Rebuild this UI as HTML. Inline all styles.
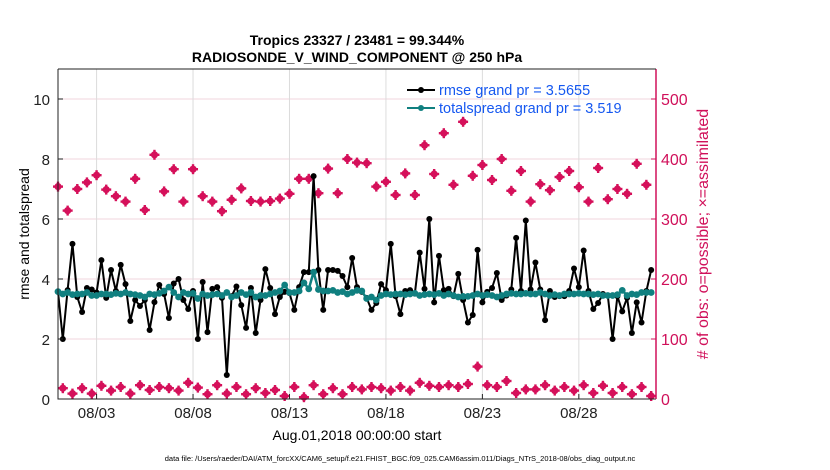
<!DOCTYPE html>
<html><head><meta charset="utf-8"><style>
body{margin:0;background:#fff;}
svg{display:block;font-family:"Liberation Sans",Arial,sans-serif;}
</style></head><body>
<svg id="chart" width="830" height="470" viewBox="0 0 830 470">
<g id="grid"></g>
<g id="series"></g>
<g id="axes"></g>
<text x="357" y="45" text-anchor="middle" font-size="14" font-weight="bold">Tropics 23327 / 23481 = 99.344%</text>
<text x="357" y="62" text-anchor="middle" font-size="14" font-weight="bold">RADIOSONDE_V_WIND_COMPONENT @ 250 hPa</text>
<text transform="translate(29,234) rotate(-90)" text-anchor="middle" font-size="14">rmse and totalspread</text>
<text transform="translate(708,234) rotate(-90)" text-anchor="middle" font-size="16" fill="#d0105a"># of obs: o=possible; ×=assimilated</text>
<text x="357" y="440" text-anchor="middle" font-size="14">Aug.01,2018 00:00:00 start</text>
<text x="400" y="461" text-anchor="middle" font-size="7.5">data file: /Users/raeder/DAI/ATM_forcXX/CAM6_setup/f.e21.FHIST_BGC.f09_025.CAM6assim.011/Diags_NTrS_2018-08/obs_diag_output.nc</text>
<g>
<line x1="407" y1="90" x2="435" y2="90" stroke="#000" stroke-width="2"/>
<circle cx="421" cy="90" r="3" fill="#000"/>
<text x="439" y="95" font-size="14.5" fill="#1558f0">rmse grand pr = 3.5655</text>
<line x1="407" y1="108" x2="435" y2="108" stroke="#108080" stroke-width="2"/>
<circle cx="421" cy="108" r="3" fill="#108080"/>
<text x="439" y="113" font-size="14.5" fill="#1558f0">totalspread grand pr = 3.519</text>
</g>
</svg>
<script>
const rmse=[3.58,2.0,3.63,5.17,3.4,2.9,3.7,3.65,3.55,4.63,3.37,4.3,3.6,4.47,3.83,2.6,3.3,3.1,3.3,2.3,3.23,3.8,3.5,2.7,3.85,4.0,3.3,3.0,3.6,2.0,3.9,
2.23,3.67,3.73,3.37,0.8,3.43,3.75,3.13,2.37,3.7,2.2,3.3,4.33,3.7,2.83,3.4,3.57,3.53,2.97,3.73,4.23,4.23,7.43,4.3,2.97,4.3,4.3,4.27,4.1,3.73,
4.7,3.73,3.57,3.37,2.97,3.2,3.83,3.63,5.17,3.43,2.83,3.6,3.63,3.53,4.88,3.67,6.0,3.22,4.77,3.63,3.67,3.43,4.17,3.3,2.55,2.8,4.97,3.22,3.57,
3.7,4.2,3.3,3.45,3.65,5.37,3.6,5.95,3.65,4.55,3.65,2.63,3.6,3.4,3.43,3.43,3.6,4.35,3.73,4.95,3.6,3.0,3.2,3.5,3.45,2.0,3.43,2.92,3.37,2.2,3.22,2.55,3.6,4.3];
const spread=[3.58,3.5,3.55,3.48,3.5,3.5,3.55,3.45,3.45,3.5,3.5,3.48,3.52,3.5,3.55,3.5,3.48,3.45,3.4,3.5,3.48,3.52,3.6,3.73,3.55,3.4,3.55,3.5,3.52,3.35,3.5,
3.45,3.48,3.5,3.45,3.55,3.4,3.45,3.55,3.48,3.55,3.4,3.45,3.45,3.5,3.55,3.6,3.8,3.55,3.55,3.6,3.87,3.67,4.23,3.65,3.6,3.6,3.62,3.55,3.58,3.5,
3.55,3.62,3.6,3.35,3.4,3.3,3.45,3.5,3.48,3.5,3.5,3.48,3.5,3.52,3.45,3.48,3.5,3.48,3.52,3.45,3.5,3.45,3.4,3.42,3.42,3.45,3.5,3.45,3.48,
3.45,3.4,3.45,3.5,3.52,3.5,3.5,3.52,3.5,3.5,3.55,3.5,3.45,3.48,3.45,3.5,3.5,3.5,3.52,3.5,3.5,3.48,3.5,3.45,3.45,3.45,3.48,3.62,3.45,3.5,3.48,3.55,3.55,3.55];
const possible=[354,314,350,361,373,349,338,329,367,315,407,346,383,329,383,338,329,313,332,351,330,329,330,334,342,367,367,343,384,343,400,394,393,354,362,340,376,340,423,375,443,357,462,372,390,365,400,347,380,329,358,348,370,380,353,329,385,333,350,342,392,357];
const assimilated=[18,9,18,9,22,14,20,9,23,15,20,18,14,27,19,8,23,9,20,8,18,10,15,5,20,3,23,8,18,8,20,16,20,18,14,20,14,27,22,20,23,20,25,54,23,20,30,10,16,16,23,14,20,14,23,10,22,10,20,8,20,5];
const leftTicks=[0,2,4,6,8,10];
const rightTicks=[0,100,200,300,400,500];
const xTickDays=[2,7,12,17,22,27];
const xTickLabels=["08/03","08/08","08/13","08/18","08/23","08/28"];

const L=58,R=656,T=69,B=399;
const X0=0,X1=31;
const xs=d=>L+(d-X0)/(X1-X0)*(R-L);
const yl=v=>B-v/11*(B-T);
const yr=v=>B-v/550*(B-T);
const NS="http://www.w3.org/2000/svg";
function mk(tag,attrs,parent){const e=document.createElementNS(NS,tag);for(const k in attrs)e.setAttribute(k,attrs[k]);parent.appendChild(e);return e;}
const grid=document.getElementById('grid'),series=document.getElementById('series'),axes=document.getElementById('axes');

leftTicks.forEach(v=>{
  const g=mk('line',{x1:L,x2:R,y1:yl(v),y2:yl(v),stroke:'#f0d4de','stroke-width':1},grid);
  
  
  const t=mk('line',{x1:L,x2:L+5,y1:yl(v),y2:yl(v),stroke:'#222'},axes);
  
  
  const tx=mk('text',{x:L-8,y:yl(v)+6,'text-anchor':'end','font-size':15,fill:'#222'},axes);
  tx.textContent=v;
  
  
});
rightTicks.forEach(v=>{
  const t=mk('line',{x1:R-5,x2:R,y1:yr(v),y2:yr(v),stroke:'#d0105a'},axes);
  
  
  const tx=mk('text',{x:R+5,y:yr(v)+6,'font-size':16,fill:'#d0105a'},axes);
  tx.textContent=v;
  
  
});
xTickDays.forEach((d,i)=>{
  const g=mk('line',{x1:xs(d),x2:xs(d),y1:T,y2:B,stroke:'#dcdcdc'},grid);
  
  
  const t=mk('line',{x1:xs(d),x2:xs(d),y1:B-5,y2:B,stroke:'#222'},axes);
  
  
  const tx=mk('text',{x:xs(d),y:B+19,'text-anchor':'middle','font-size':15,fill:'#222'},axes);
  tx.textContent=xTickLabels[i];
  
  
});
const frame=mk('path',{d:`M${L},${T}V${B}H${R}`,fill:'none',stroke:'#222','stroke-width':1},axes);


const raxis=mk('line',{x1:R,x2:R,y1:T,y2:B,stroke:'#d0105a','stroke-width':1.5},axes);


const topline=mk('line',{x1:L,x2:R,y1:T,y2:T,stroke:'#222'},axes);



function obsMarker(cx,cy,name){
  const g=mk('g',{fill:'#d5105a'},series);
  
  
  mk('circle',{cx:cx,cy:cy,r:3.6},g);
  mk('rect',{x:cx-5,y:cy-1.2,width:10,height:2.4},g);
  mk('rect',{x:cx-1.2,y:cy-5,width:2.4,height:10},g);
}
possible.forEach((v,i)=>obsMarker(xs(i*0.5),yr(v),'possible-obs-marker'));
assimilated.forEach((v,i)=>obsMarker(xs(i*0.5+0.25),yr(v),'assimilated-obs-marker'));

function line(vals,color,name,r,w){
  const pts=vals.map((v,i)=>xs(i*0.25).toFixed(1)+','+yl(v).toFixed(1)).join(' ');
  const p=mk('polyline',{points:pts,fill:'none',stroke:color,'stroke-width':w,'stroke-linejoin':'round'},series);
  
  
  vals.forEach((v,i)=>{
    const c=mk('circle',{cx:xs(i*0.25),cy:yl(v),r:r,fill:color},series);
    
    
  });
}
line(rmse,'#000','rmse',3,2);
line(spread,'#108080','totalspread',3.4,2.5);
</script>
</body></html>
